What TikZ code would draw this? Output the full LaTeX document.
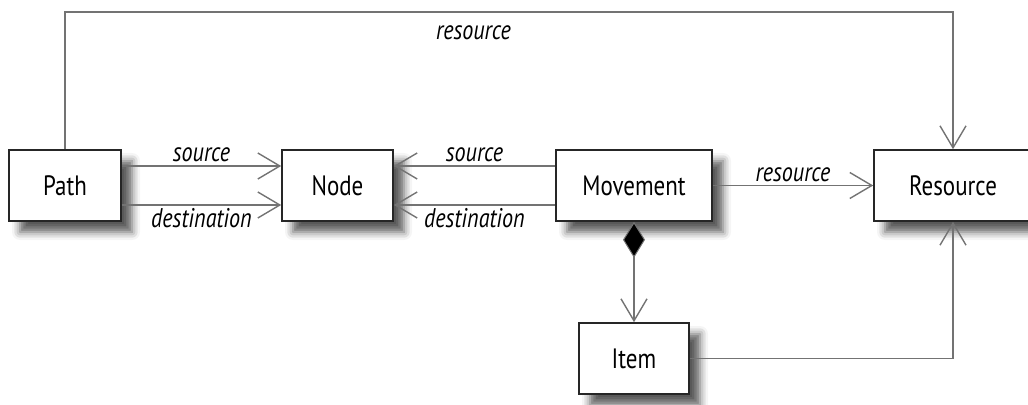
\documentclass[tikz,border=0pt]{standalone}
\usepackage{fontspec}
\setmainfont{PT Sans}[FakeStretch=0.82]
\usetikzlibrary{positioning,arrows.meta,shadows.blur}

\tikzset{
  box/.style={draw=black!85, line width=0.8pt, fill=white, minimum height=35.5pt,
    font=\fontsize{14}{16}\selectfont,
    blur shadow={shadow xshift=5.5pt, shadow yshift=-5.5pt, shadow blur radius=4pt, shadow opacity=65}},
  conn/.style={draw=black!55, line width=0.85pt, -{Straight Barb[length=11pt,width=13pt,line width=0.7pt]}},
  lbl/.style={font=\fontsize{13.5}{15}\selectfont\itshape, inner sep=1.5pt},
}

\begin{document}
\begin{tikzpicture}[x=0.5pt,y=-0.5pt]
  % fixed frame of the picture
  \useasboundingbox (0,0) rectangle (1028,405);

  % boxes
  \node[box, minimum width=56pt] (path) at (65,185.5) {Path};
  \node[box, minimum width=55.5pt] (nd) at (337.5,185.5) {Node};
  \node[box, minimum width=78pt] (move) at (634,185.5) {Movement};
  \node[box, minimum width=79pt] (res) at (953,185.5) {Resource};
  \node[box, minimum width=55pt] (item) at (634,358.5) {Item};

  % corner of the long line on top
  \coordinate (ttop) at (65,12);

  % Path -> Node
  \draw[conn] ([yshift=9.75pt]path.east) -- node[lbl, above] {source} ([yshift=9.75pt]nd.west);
  \draw[conn] ([yshift=-9.75pt]path.east) -- node[lbl, below] {destination} ([yshift=-9.75pt]nd.west);

  % Movement -> Node
  \draw[conn] ([yshift=9.75pt]move.west) -- node[lbl, above] {source} ([yshift=9.75pt]nd.east);
  \draw[conn] ([yshift=-9.75pt]move.west) -- node[lbl, below] {destination} ([yshift=-9.75pt]nd.east);

  % resources
  \draw[conn] (move.east) -- node[lbl, above] {resource} (res.west);
  \draw[conn] (path.north) -- (ttop) -| node[lbl, below, pos=0.23, yshift=-5pt] {resource} (res.north);
  \draw[conn] (item.east) -| (res.south);

  % composition
  \draw[conn, {Diamond[length=18pt,width=11pt,fill=black,line width=0.5pt]}-{Straight Barb[length=11pt,width=13pt,line width=0.7pt]}]
    (move.south) -- (item.north);
\end{tikzpicture}
\end{document}
